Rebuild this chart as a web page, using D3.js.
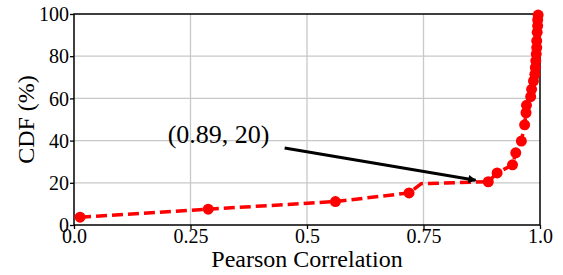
<!DOCTYPE html>
<html>
<head>
<meta charset="utf-8">
<script src="https://cdn.jsdelivr.net/npm/d3@7"></script>
<style>
  html, body { margin: 0; padding: 0; background: #fff; }
  svg { display: block; }
  svg text { font-family: "Liberation Serif", Tinos, "Times New Roman", Times, serif; fill: #000; }
</style>
</head>
<body>
<svg id="chart" width="563" height="275"></svg>
<script>
// ---- data ----
const pearson = [0.013, 0.288, 0.561, 0.719, 0.745, 0.889, 0.908, 0.941, 0.948, 0.960,
                 0.967, 0.970, 0.971, 0.980, 0.982, 0.986, 0.989, 0.990, 0.991, 0.992,
                 0.993, 0.993, 0.994, 0.995, 0.995, 0.996];
const cdf     = [3.7, 7.5, 11.1, 15.2, 19.6, 20.5, 24.7, 28.5, 34.2, 39.8,
                 47.5, 53.2, 56.7, 60.8, 64.3, 68.2, 71.4, 74.6, 77.8, 81.0,
                 84.1, 87.3, 91.3, 94.4, 97.2, 99.5];
const noMarker = [4];               // line vertex without a marker
const xTicks = [0, 0.25, 0.5, 0.75, 1.0];
const xTickLabels = ["0.0", "0.25", "0.5", "0.75", "1.0"];
const yTicks = [0, 20, 40, 60, 80, 100];
const xTitle = "Pearson Correlation";
const yTitle = "CDF (%)";
const annotText = "(0.89, 20)";
const annotTextAt = [0.201, 38.9];
const arrowFrom = [0.452, 36.5];
const arrowTo = [0.862, 21.2];

// ---- layout ----
const W = 563, H = 275;
const m = {left: 74, right: 23, top: 14, bottom: 50};
const svg = d3.select("#chart");
const x = d3.scaleLinear().domain([0, 1]).range([m.left, W - m.right]);
const y = d3.scaleLinear().domain([0, 100]).range([H - m.bottom, m.top]);
const FONT = '"Liberation Serif", Tinos, "Times New Roman", Times, serif';

// grid
const grid = svg.append("g");
grid.selectAll(".gx").data(xTicks.slice(1, -1)).enter().append("line")
  .attr("x1", d => x(d)).attr("x2", d => x(d))
  .attr("y1", y(0)).attr("y2", y(100))
  .attr("stroke", "#c8c8c8").attr("stroke-width", 1.3);
grid.selectAll(".gy").data(yTicks.slice(1, -1)).enter().append("line")
  .attr("x1", x(0)).attr("x2", x(1))
  .attr("y1", d => y(d)).attr("y2", d => y(d))
  .attr("stroke", "#c8c8c8").attr("stroke-width", 1.3);

// axes
const xAxis = d3.axisBottom(x).tickValues(xTicks)
  .tickFormat((d, i) => xTickLabels[i]).tickSize(4).tickPadding(0);
const yAxis = d3.axisLeft(y).tickValues(yTicks).tickSize(4).tickPadding(1);

const gx = svg.append("g").attr("transform", `translate(0,${y(0)})`).call(xAxis);
const gy = svg.append("g").attr("transform", `translate(${x(0)},0)`).call(yAxis);
[gx, gy].forEach(g => {
  g.attr("font-family", FONT);
  g.select(".domain").remove();
  g.selectAll(".tick line").attr("stroke", "#000").attr("stroke-width", 1.3);
  g.selectAll(".tick text").attr("font-family", FONT)
    .style("font-size", "20px").attr("fill", "#000");
});
gy.selectAll(".tick text").attr("dy", "0.33em");
gx.selectAll(".tick text").attr("dy", "0.72em");

// frame
svg.append("rect")
  .attr("x", x(0)).attr("y", y(100))
  .attr("width", x(1) - x(0)).attr("height", y(0) - y(100))
  .attr("fill", "none").attr("stroke", "#000").attr("stroke-width", 1.5);

// titles
svg.append("text").attr("x", (x(0) + x(1)) / 2).attr("y", 267)
  .attr("text-anchor", "middle").attr("font-family", FONT)
  .style("font-size", "24px").text(xTitle);
svg.append("text")
  .attr("transform", `translate(34,${(y(0) + y(100)) / 2}) rotate(-90)`)
  .attr("text-anchor", "middle").attr("font-family", FONT)
  .style("font-size", "24px").text(yTitle);

// data line
const pts = pearson.map((p, i) => ({x: p, y: cdf[i], i}));
const line = d3.line().x(d => x(d.x)).y(d => y(d.y));
svg.append("path").datum(pts)
  .attr("d", line).attr("fill", "none")
  .attr("stroke", "#ff0000").attr("stroke-width", 3.5)
  .attr("stroke-dasharray", "11,5");
svg.append("g").selectAll("circle")
  .data(pts.filter(d => !noMarker.includes(d.i))).enter().append("circle")
  .attr("cx", d => x(d.x)).attr("cy", d => y(d.y)).attr("r", 5.5)
  .attr("fill", "#ff0000");

// annotation
const defs = svg.append("defs");
defs.append("marker").attr("id", "ah")
  .attr("viewBox", "0 0 10 10").attr("refX", 9).attr("refY", 5)
  .attr("markerWidth", 3.4).attr("markerHeight", 2.7)
  .attr("markerUnits", "strokeWidth").attr("orient", "auto")
  .append("path").attr("d", "M0,0 L10,5 L0,10 z").attr("fill", "#000");
svg.append("line")
  .attr("x1", x(arrowFrom[0])).attr("y1", y(arrowFrom[1]))
  .attr("x2", x(arrowTo[0])).attr("y2", y(arrowTo[1]))
  .attr("stroke", "#000").attr("stroke-width", 3)
  .attr("marker-end", "url(#ah)");
svg.append("text").attr("x", x(annotTextAt[0])).attr("y", y(annotTextAt[1]))
  .attr("font-family", FONT)
  .style("font-size", "26px").text(annotText);
</script>
</body>
</html>
